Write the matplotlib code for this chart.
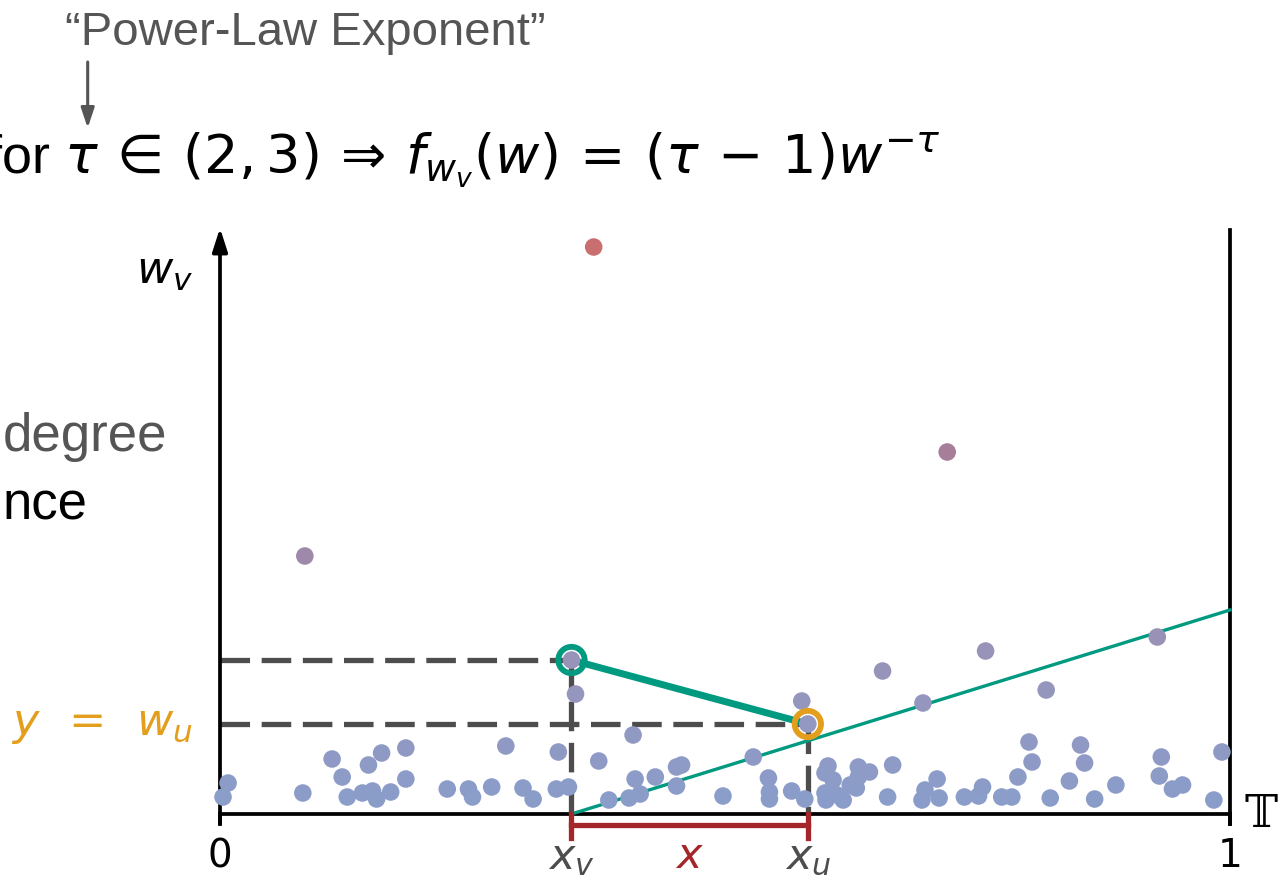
"""Power-law weights on the torus: sketch of edge construction."""

import matplotlib.pyplot as plt
from matplotlib.colors import LinearSegmentedColormap

# vertex positions on [0, 1] and their weights w_v
pos = [0.003, 0.008, 0.082, 0.111, 0.121, 0.126, 0.141, 0.147, 0.151, 0.155,
       0.160, 0.169, 0.184, 0.184, 0.225, 0.246, 0.250, 0.269, 0.283, 0.300,
       0.310, 0.333, 0.335, 0.345, 0.375, 0.385, 0.405, 0.409, 0.411, 0.416,
       0.431, 0.452, 0.457, 0.452, 0.498, 0.528, 0.543, 0.544, 0.544, 0.566,
       0.579, 0.602, 0.599, 0.607, 0.599, 0.600, 0.611, 0.617, 0.624, 0.630,
       0.632, 0.632, 0.643, 0.661, 0.666, 0.695, 0.698, 0.710, 0.712, 0.737,
       0.751, 0.755, 0.774, 0.784, 0.790, 0.801, 0.804, 0.822, 0.841, 0.852,
       0.856, 0.866, 0.887, 0.930, 0.932, 0.943, 0.953, 0.984, 0.992,
       0.370, 0.720, 0.084, 0.928, 0.758, 0.656, 0.818, 0.696, 0.576, 0.352,
       0.348, 0.582]
weight = [0.17, 0.31, 0.21, 0.55, 0.37, 0.17, 0.21, 0.49, 0.23, 0.15,
          0.61, 0.22, 0.66, 0.35, 0.25, 0.25, 0.17, 0.27, 0.68, 0.26,
          0.15, 0.25, 0.62, 0.27, 0.53, 0.14, 0.16, 0.79, 0.35, 0.20,
          0.37, 0.47, 0.49, 0.28, 0.18, 0.57, 0.36, 0.22, 0.15, 0.23,
          0.15, 0.48, 0.41, 0.34, 0.21, 0.14, 0.19, 0.14, 0.29, 0.26,
          0.47, 0.37, 0.42, 0.17, 0.49, 0.14, 0.24, 0.35, 0.16, 0.17,
          0.18, 0.27, 0.17, 0.17, 0.37, 0.72, 0.52, 0.16, 0.33, 0.69,
          0.51, 0.15, 0.29, 0.38, 0.57, 0.25, 0.29, 0.14, 0.62,
          5.67, 3.62, 2.58, 1.77, 1.63, 1.43, 1.24, 1.11, 1.13, 1.20,
          1.54, 0.90]

# the two highlighted vertices v and u
x_v, w_v = 0.348, 1.54
x_u, w_u = 0.582, 0.90
# threshold line through (x_v, 0) up to the right border
thr_x = [x_v, 1.0]
thr_y = [0.0, 2.04]

GRAY = "#4d4d4d"
TEAL = "#009a80"
ORANGE = "#e39e1e"
DARKRED = "#a4262a"

cmap = LinearSegmentedColormap.from_list(
    "wcol", [(0.0, "#8a9dca"), (0.3, "#9a92b6"), (0.6, "#a47f9c"), (1.0, "#c96f6f")])

fig = plt.figure(figsize=(12.88, 8.75), dpi=100)
ax = fig.add_axes([0, 0, 1, 1])
ax.set_xlim(-220 / 1010, 1068 / 1010)
ax.set_ylim(-0.61, 8.14)
ax.axis("off")

# frame: y-axis arrow, right border, bottom
ax.annotate("", xy=(0, 5.86), xytext=(0, -0.1),
            arrowprops=dict(arrowstyle="-|>,head_width=0.45,head_length=1.4",
                            lw=2.7, color="black", shrinkA=0, shrinkB=0))
ax.plot([1, 1], [-0.1, 5.84], color="black", lw=2.7)
ax.plot([0, 1], [0, 0], color="black", lw=2.7)

# dashed guides
dash = dict(color=GRAY, lw=3.8, dashes=(5.6, 2.2))
ax.plot([0, x_v], [w_v, w_v], **dash)
ax.plot([0, x_u], [w_u, w_u], **dash)
ax.plot([x_v, x_v], [w_v, 0], **dash)
ax.plot([x_u, x_u], [w_u, 0], **dash)

# threshold line and the edge
ax.plot(thr_x, thr_y, color=TEAL, lw=2.4)
ax.plot([x_v, x_u], [w_v, w_u], color=TEAL, lw=5)

# vertices
ax.scatter(pos, weight, c=weight, cmap=cmap, vmin=0.1, vmax=5.7,
           s=160, linewidths=0, zorder=3)
ax.scatter([x_v], [w_v], s=360, facecolors="none", edgecolors=TEAL,
           linewidths=4.2, zorder=4)
ax.scatter([x_u], [w_u], s=360, facecolors="none", edgecolors=ORANGE,
           linewidths=4.2, zorder=4)

# distance bracket
ax.plot([x_v, x_u], [-0.11, -0.11], color=DARKRED, lw=3.8)
ax.plot([x_v, x_v], [0, -0.24], color=DARKRED, lw=3.8)
ax.plot([x_u, x_u], [0, -0.24], color=DARKRED, lw=3.8)
ax.plot([0, 0], [0, -0.1], color="black", lw=2.7)
ax.plot([1, 1], [0, -0.1], color="black", lw=2.7)

# labels
ax.text(0, -0.42, "0", fontsize=28, ha="center", va="center")
ax.text(1, -0.42, "1", fontsize=28, ha="center", va="center")
ax.text(x_v, -0.43, "$x_v$", fontsize=31, ha="center", va="center", color=GRAY)
ax.text(x_u, -0.43, "$x_u$", fontsize=31, ha="center", va="center", color=GRAY)
ax.text((x_v + x_u) / 2, -0.42, "$x$", fontsize=31, ha="center", va="center",
        color=DARKRED)
ax.text(1.031, 0.0, "\U0001D54B", fontsize=32, ha="center", va="center",
        family=["DejaVu Serif", "DejaVu Sans", "STIXGeneral"])
ax.text(-0.027, w_u, "$y\\ \\,=\\ \\,w_u$", fontsize=32, ha="right",
        va="center", color=ORANGE)
ax.text(-0.055, 5.42, "$w_v$", fontsize=32, ha="center", va="center")

# text pieces on the left and top
ax.text(-0.215, 3.77, "degree", fontsize=38, ha="left", va="center",
        color="#555555", family="Liberation Sans")
ax.text(-0.215, 3.09, "nce", fontsize=38, ha="left", va="center",
        color="black", family="Liberation Sans")
ax.text(-0.232, 6.54,
        r"for $\tau\,\in\,(2,3)\,\Rightarrow\,f_{w_v}(w)\,=\,(\tau\,-\,1)w^{-\tau}$",
        fontsize=39, ha="left", va="center", family="Liberation Sans")
ax.text(0.084, 7.81, "\u201cPower-Law Exponent\u201d", fontsize=34, ha="center",
        va="center", color="#555555", family="Liberation Sans")
ax.annotate("", xy=(-0.131, 6.86), xytext=(-0.131, 7.52),
            arrowprops=dict(arrowstyle="-|>,head_width=0.4,head_length=1.2",
                            lw=2.2, color="#555555", shrinkA=0, shrinkB=0))

fig.savefig("out.png", dpi=100)
plt.close(fig)
